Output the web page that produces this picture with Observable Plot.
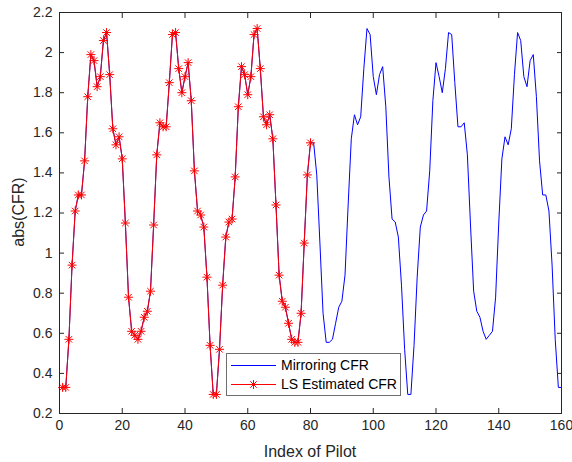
<!DOCTYPE html>
<html>
<head>
<meta charset="utf-8">
<script src="https://cdn.jsdelivr.net/npm/d3@7"></script>
<script src="https://cdn.jsdelivr.net/npm/@observablehq/plot@0.6"></script>
<style>
  html, body { margin: 0; padding: 0; background: #fff; }
  #chart { width: 572px; height: 462px; }
</style>
</head>
<body>
<div id="chart"></div>
<script>
// LS estimated CFR (pilot index 1..80)
const lsEstimated = [
  0.33, 0.33, 0.57, 0.94, 1.21, 1.29, 1.29, 1.46, 1.78, 1.99,
  1.96, 1.83, 1.88, 2.06, 2.10, 1.89, 1.62, 1.54, 1.58, 1.47,
  1.15, 0.78, 0.61, 0.59, 0.57, 0.61, 0.68, 0.71, 0.81, 1.14,
  1.49, 1.65, 1.63, 1.63, 1.85, 2.09, 2.10, 1.92, 1.80, 1.88,
  1.95, 1.76, 1.41, 1.21, 1.19, 1.13, 0.88, 0.54, 0.295, 0.295,
  0.52, 0.84, 1.08, 1.155, 1.17, 1.38, 1.73, 1.93, 1.89, 1.79,
  1.88, 2.09, 2.12, 1.92, 1.68, 1.64, 1.69, 1.57, 1.24, 0.89,
  0.76, 0.73, 0.65, 0.57, 0.555, 0.555, 0.70, 1.05, 1.39, 1.55
];
// Mirroring CFR, second half (pilot index 81..160)
const mirroredTail = [
  1.55, 1.39, 1.05, 0.70, 0.555, 0.555, 0.57, 0.65, 0.73, 0.76,
  0.89, 1.24, 1.57, 1.69, 1.64, 1.68, 1.92, 2.12, 2.09, 1.88,
  1.79, 1.89, 1.93, 1.73, 1.38, 1.17, 1.155, 1.08, 0.84, 0.52,
  0.295, 0.295, 0.54, 0.88, 1.13, 1.19, 1.21, 1.41, 1.76, 1.95,
  1.88, 1.80, 1.92, 2.10, 2.09, 1.85, 1.63, 1.63, 1.65, 1.49,
  1.14, 0.81, 0.71, 0.68, 0.61, 0.57, 0.59, 0.61, 0.78, 1.15,
  1.47, 1.58, 1.54, 1.62, 1.89, 2.10, 2.06, 1.88, 1.83, 1.96,
  1.99, 1.78, 1.46, 1.29, 1.29, 1.21, 0.94, 0.57, 0.33, 0.33
];
const xTicks = [0, 20, 40, 60, 80, 100, 120, 140, 160];
const yTicks = [0.2, 0.4, 0.6, 0.8, 1, 1.2, 1.4, 1.6, 1.8, 2, 2.2];
const seriesNames = ["Mirroring CFR", "LS Estimated CFR"];
const xLabel = "Index of Pilot";
const yLabel = "abs(CFR)";

const mirroring = lsEstimated.concat(mirroredTail).map((v, i) => ({x: i + 1, y: v}));
const ls = lsEstimated.map((v, i) => ({x: i + 1, y: v}));

const asterisk = {
  draw(context, size) {
    const r = Math.sqrt(size / Math.PI);
    const d = r * 0.72;
    context.moveTo(-r, 0); context.lineTo(r, 0);
    context.moveTo(0, -r); context.lineTo(0, r);
    context.moveTo(-d, -d); context.lineTo(d, d);
    context.moveTo(-d, d); context.lineTo(d, -d);
  }
};

const textColor = "#262626";
const font = "Liberation Sans, Arial, Helvetica, sans-serif";

const chart = Plot.plot({
  width: 572,
  height: 462,
  marginLeft: 59,
  marginRight: 11,
  marginTop: 12,
  marginBottom: 49,
  style: {fontFamily: font, fontSize: "14px", color: textColor, background: "#fff"},
  x: {domain: [0, 160]},
  y: {domain: [0.2, 2.2]},
  marks: [
    Plot.line(mirroring, {x: "x", y: "y", stroke: "#0000ff", strokeWidth: 1}),
    Plot.line(ls, {x: "x", y: "y", stroke: "#ff0000", strokeWidth: 1}),
    Plot.dot(ls, {x: "x", y: "y", symbol: asterisk, r: 4.5, stroke: "#ff0000", fill: "none", strokeWidth: 1}),
    Plot.axisX({anchor: "bottom", ticks: xTicks, tickSize: -5, tickPadding: 12, label: null, tickFormat: d => String(d), fill: textColor, stroke: textColor}),
    Plot.axisX({anchor: "top", ticks: xTicks, tickSize: -5, label: null, tickFormat: () => "", stroke: textColor}),
    Plot.axisY({anchor: "left", ticks: yTicks, tickSize: -5, tickPadding: 12, label: null, tickFormat: d => String(d), fill: textColor, stroke: textColor}),
    Plot.axisY({anchor: "right", ticks: yTicks, tickSize: -5, label: null, tickFormat: () => "", stroke: textColor}),
    Plot.frame({stroke: textColor, strokeWidth: 1})
  ]
});

document.getElementById("chart").appendChild(chart);

const svg = d3.select(chart);
svg.append("text")
  .attr("x", 310).attr("y", 457)
  .attr("text-anchor", "middle")
  .attr("font-family", font).attr("font-size", 16)
  .attr("fill", textColor)
  .text(xLabel);
svg.append("text")
  .attr("transform", "translate(24,212) rotate(-90)")
  .attr("text-anchor", "middle")
  .attr("font-family", font).attr("font-size", 16)
  .attr("fill", textColor)
  .text(yLabel);

// Legend
const lg = svg.append("g").attr("text-anchor", "start");
lg.append("rect")
  .attr("x", 226.5).attr("y", 353.5).attr("width", 174).attr("height", 42)
  .attr("fill", "#fff").attr("stroke", "#6e6e6e").attr("stroke-width", 1);
const rows = [
  {name: seriesNames[0], color: "#0000ff", marker: false, y: 365.5},
  {name: seriesNames[1], color: "#ff0000", marker: true, y: 384.5}
];
rows.forEach(r => {
  lg.append("line").attr("x1", 231).attr("x2", 276).attr("y1", r.y).attr("y2", r.y)
    .attr("stroke", r.color).attr("stroke-width", 1);
  if (r.marker) {
    const p = d3.path();
    asterisk.draw(p, Math.PI * 4.5 * 4.5);
    lg.append("path").attr("d", p.toString())
      .attr("transform", `translate(253.5,${r.y})`)
      .attr("stroke", r.color).attr("fill", "none").attr("stroke-width", 1);
  }
  lg.append("text").attr("x", 281).attr("y", r.y).attr("dy", "0.35em")
    .attr("text-anchor", "start")
    .attr("font-family", font).attr("font-size", 14).attr("fill", "#000")
    .text(r.name);
});
</script>
</body>
</html>
